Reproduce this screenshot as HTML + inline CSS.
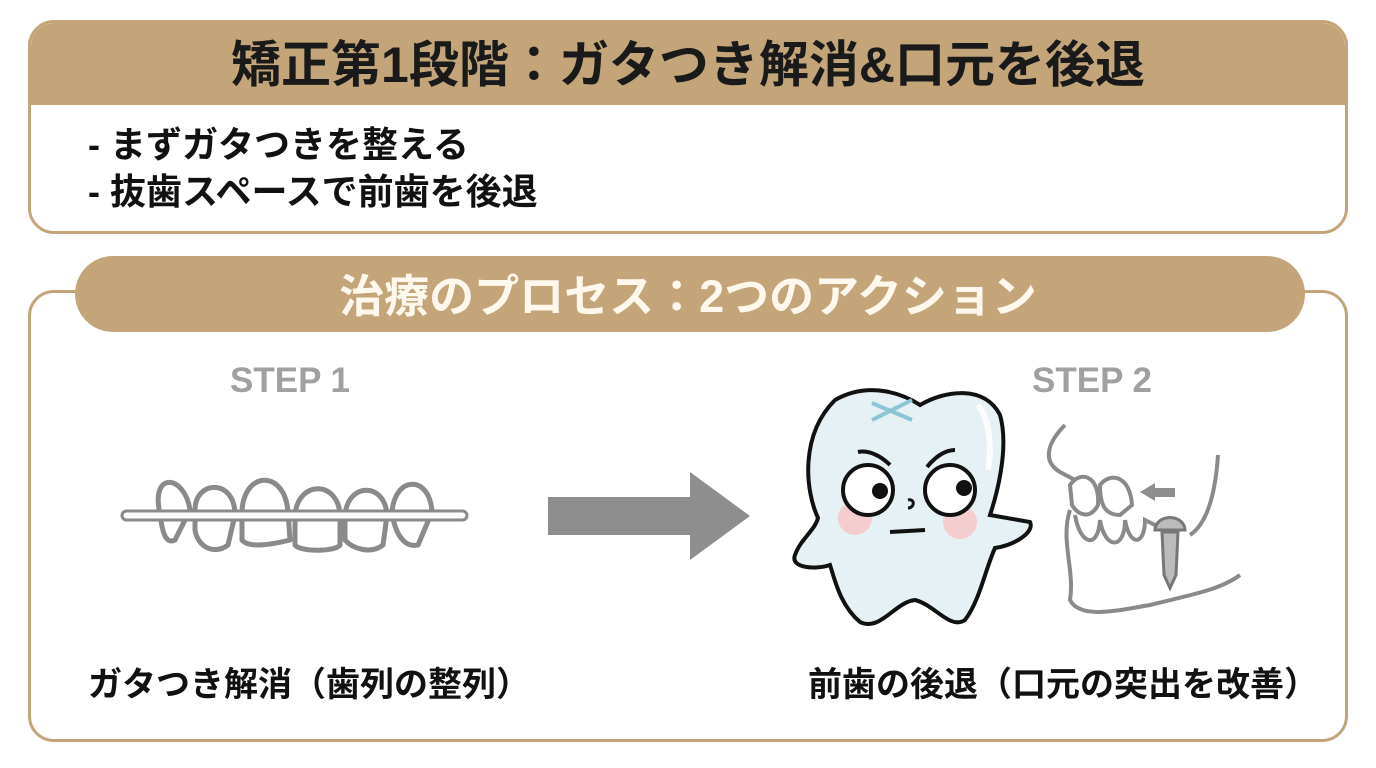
<!DOCTYPE html>
<html><head><meta charset="utf-8"><style>
body{margin:0;width:1376px;height:768px;background:#fff;position:relative;overflow:hidden;font-family:"Liberation Sans","Noto Sans CJK JP",sans-serif;font-weight:bold}
.t{position:absolute;white-space:nowrap}
</style></head><body>
<div style="position:absolute;left:28px;top:20px;width:1314px;height:208px;border:3px solid #c4a57a;border-radius:26px;overflow:hidden">
<div style="height:82px;background:#c4a57a"></div></div>
<div class="t" style="left:0;width:1376px;text-align:center;top:35px;font-size:50px;line-height:60px;color:#1a1a1a">矯正第1段階：ガタつき解消&amp;口元を後退</div>
<div class="t" style="left:88px;top:123px;font-size:36px;line-height:44px;color:#111">- まずガタつきを整える</div>
<div class="t" style="left:88px;top:170px;font-size:36px;line-height:44px;color:#111">- 抜歯スペースで前歯を後退</div>
<div style="position:absolute;left:28px;top:290px;width:1314px;height:446px;border:3px solid #c4a57a;border-radius:26px"></div>
<div style="position:absolute;left:75px;top:256px;width:1230px;height:76px;background:#c4a57a;border-radius:38px"></div>
<div class="t" style="left:0;width:1376px;text-align:center;top:270px;font-size:45px;line-height:54px;color:#fdf7ec">治療のプロセス：2つのアクション</div>
<div class="t" style="left:230px;top:361px;font-size:35px;line-height:40px;color:#a0a0a0">STEP 1</div>
<div class="t" style="left:1032px;top:361px;font-size:35px;line-height:40px;color:#a0a0a0">STEP 2</div>
<svg style="position:absolute;left:0;top:0" width="1376" height="768">
<g fill="none" stroke="#8a8a8a" stroke-width="5" stroke-linejoin="round">
<path d="M160 514 C150 470 185 475 190 510 L175 540 C165 545 162 530 160 514Z"/>
<path d="M195 510 C195 480 235 478 235 515 L228 545 C215 555 198 548 195 530Z"/>
<path d="M242 510 C245 470 285 470 288 512 L290 540 C270 545 248 548 242 540Z"/>
<path d="M295 515 C298 480 338 480 340 515 L340 545 C335 552 300 552 295 545Z"/>
<path d="M345 515 C348 482 385 482 387 515 L383 545 C370 555 352 548 345 540Z"/>
<path d="M392 512 C395 475 430 475 432 512 L418 545 C405 548 395 535 392 512Z"/>
</g>
<rect x="122" y="511" width="345" height="9" rx="4.5" fill="#fff" stroke="#8a8a8a" stroke-width="3"/>
<polygon points="548,497 690,497 690,472 750,516 690,560 690,535 548,535" fill="#8e8e8e"/>
<path d="M835 400 C870 380 905 395 920 405 C945 390 985 385 1000 415 C1010 450 995 500 990 515 L1030 522 C1035 532 1015 545 995 548 C985 570 980 600 965 620 C950 630 935 605 915 600 C895 602 880 632 860 622 C840 605 835 580 830 565 C815 570 790 568 795 555 C800 540 815 530 818 518 C805 490 800 435 835 400Z" fill="#e6f1f5" stroke="#111" stroke-width="4"/>
<path d="M978 405 C990 420 992 450 988 470" stroke="#fff" stroke-width="6" fill="none" opacity=".8"/>
<path d="M872 403 L912 420 M872 420 L912 400" stroke="#8cc6d6" stroke-width="4"/>
<circle cx="855" cy="518" r="17" fill="#f7c4c4" opacity=".8"/><circle cx="960" cy="522" r="17" fill="#f7c4c4" opacity=".8"/>
<circle cx="868" cy="490" r="25" fill="#fff" stroke="#111" stroke-width="4"/><circle cx="880" cy="491" r="8" fill="#111"/>
<circle cx="950" cy="490" r="25" fill="#fff" stroke="#111" stroke-width="4"/><circle cx="964" cy="488" r="8" fill="#111"/>
<path d="M858 452 C868 450 880 455 890 465 M927 467 C935 457 945 450 955 450" stroke="#111" stroke-width="4" fill="none"/>
<path d="M908 500 C915 498 915 508 908 508" stroke="#111" stroke-width="3" fill="none"/>
<path d="M890 532 L925 530" stroke="#111" stroke-width="4"/>
<g fill="none" stroke="#8a8a8a" stroke-width="4">
<path d="M1065 425 C1050 440 1040 460 1060 472 L1075 480"/>
<path d="M1070 485 C1080 470 1100 475 1098 505 C1090 520 1078 515 1072 505Z"/>
<path d="M1100 485 C1110 472 1130 475 1132 505 L1120 515 C1105 515 1100 505 1100 485Z"/>
<path d="M1075 515 C1080 545 1098 550 1100 520 M1100 520 C1105 550 1125 550 1125 520 M1125 520 C1130 548 1145 545 1145 520 L1165 530"/>
<path d="M1070 510 C1060 540 1075 570 1070 600 C1080 620 1120 610 1150 605 C1190 595 1220 590 1240 575"/>
<path d="M1190 535 C1205 525 1215 500 1218 455"/>
</g>
<polygon points="1140,492 1155,483 1155,488 1175,488 1175,497 1155,497 1155,501" fill="#8e8e8e"/>
<path d="M1155 530 A12 10 0 0 1 1185 530 Z" fill="#bbb" stroke="#777" stroke-width="3"/>
<path d="M1162 532 L1178 532 L1176 575 L1170 588 L1164 575Z" fill="#bbb" stroke="#777" stroke-width="3"/>
</svg>
<div class="t" style="left:88px;top:664px;font-size:34px;line-height:42px;color:#111">ガタつき解消（歯列の整列）</div>
<div class="t" style="left:808px;top:664px;font-size:34px;line-height:42px;color:#111">前歯の後退（口元の突出を改善）</div>
</body></html>
